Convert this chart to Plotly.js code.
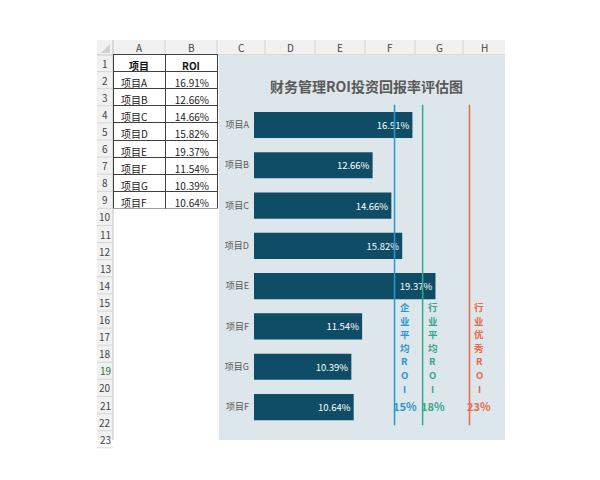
<!DOCTYPE html>
<html><head><meta charset="utf-8">
<script src="https://cdn.plot.ly/plotly-3.0.1.min.js"></script>
<style>html,body{margin:0;padding:0;background:#fff;}#chart{width:600px;height:480px;}</style>
</head><body><div id="chart"></div>
<script>
// ---- data ----
const projects = ['项目A','项目B','项目C','项目D','项目E','项目F','项目G','项目F'];
const roi = [16.91, 12.66, 14.66, 15.82, 19.37, 11.54, 10.39, 10.64];
const benchNames = ['企业平均ROI','行业平均ROI','行业优秀ROI'];
const benchValues = [15, 18, 23];
const benchColors = ['#2b97d0','#38a78b','#e8694c'];
const colLetters = ['A','B','C','D','E','F','G','H'];
const tableHeader = ['项目','ROI'];
const chartTitle = '财务管理ROI投资回报率评估图';

// ---- layout helpers (pixel -> paper) ----
const W = 600, H = 480;
const px = p => p / W;
const py = p => 1 - p / H;
const font = '"Noto Sans CJK SC", "Noto Sans", sans-serif';

const colEdges = [97, 113, 165, 217, 265, 315, 365, 415, 463, 505];
const rowTop = 54.5, rowH = 17.1, nRows = 23;

const shapes = [];
const annotations = [];

// sheet header row & row-number column
shapes.push({type:'rect', xref:'paper', yref:'paper', x0:px(97), x1:px(505), y0:py(55), y1:py(40), fillcolor:'#f1f1f1', line:{width:0}, layer:'below'});
shapes.push({type:'rect', xref:'paper', yref:'paper', x0:px(97), x1:px(113), y0:py(440), y1:py(55), fillcolor:'#f1f1f1', line:{width:0}, layer:'below'});
shapes.push({type:'line', xref:'paper', yref:'paper', x0:px(97), x1:px(505), y0:py(55), y1:py(55), line:{color:'#c6c6c6', width:1}, layer:'below'});
shapes.push({type:'line', xref:'paper', yref:'paper', x0:px(113), x1:px(113), y0:py(440), y1:py(40), line:{color:'#c6c6c6', width:1}, layer:'below'});
// corner triangle
shapes.push({type:'path', xref:'paper', yref:'paper', path:`M ${px(110)} ${py(44)} L ${px(110)} ${py(53)} L ${px(101)} ${py(53)} Z`, fillcolor:'#cfcfcf', line:{width:0}, layer:'below'});
for (let i = 1; i < colEdges.length - 1; i++) {
  shapes.push({type:'line', xref:'paper', yref:'paper', x0:px(colEdges[i]), x1:px(colEdges[i]), y0:py(55), y1:py(40), line:{color:'#d4d4d4', width:1}, layer:'below'});
}
colLetters.forEach((c, i) => {
  annotations.push({xref:'paper', yref:'paper', x:px((colEdges[i+1]+colEdges[i+2])/2), y:py(47.5), text:c, showarrow:false, font:{family:font, size:10, color:'#444'}, xanchor:'center', yanchor:'middle'});
});
for (let r = 1; r <= nRows; r++) {
  const yb = rowTop + rowH * r;
  shapes.push({type:'line', xref:'paper', yref:'paper', x0:px(97), x1:px(113), y0:py(yb), y1:py(yb), line:{color:'#d6d6d6', width:1}, layer:'below'});
  annotations.push({xref:'paper', yref:'paper', x:px(105), y:py(yb - rowH/2), text:String(r), showarrow:false, font:{family:font, size:10, color:r===19?'#217346':'#444'}, xanchor:'center', yanchor:'middle'});
}

// chart background
shapes.push({type:'rect', xref:'paper', yref:'paper', x0:px(219), x1:px(505), y0:py(440), y1:py(55), fillcolor:'#dde6ea', line:{width:0}, layer:'below'});

// title
annotations.push({xref:'paper', yref:'paper', x:px(366), y:py(86), text:'<b>'+chartTitle+'</b>', showarrow:false, font:{family:font, size:14, color:'#595959'}, xanchor:'center', yanchor:'middle'});

// traces
const traces = [];
traces.push({
  type:'table',
  domain:{x:[px(113), px(217)], y:[py(rowTop + rowH * (projects.length + 1) + 1), py(rowTop)]},
  columnwidth:[52,52],
  header:{values:tableHeader, align:'center', height:rowH, fill:{color:'#ffffff'}, line:{color:'#404040', width:1}, font:{family:font, size:10, color:'#111', weight:'bold'}},
  cells:{values:[projects, roi.map(v=>v.toFixed(2)+'%')], align:['left','right'], height:rowH, fill:{color:'#ffffff'}, line:{color:'#404040', width:1}, font:{family:font, size:10, color:'#222'}}
});

const yIdx = projects.map((_, i) => i);
traces.push({
  type:'bar', orientation:'h', x:roi, y:yIdx, width:0.65,
  marker:{color:'#0f4d66'},
  text:roi.map(v=>v.toFixed(2)+'%'), textposition:'inside', insidetextanchor:'end',
  textfont:{family:font, size:9.5, color:'#ffffff'}, hoverinfo:'skip', showlegend:false,
  cliponaxis:false
});

const lineTop = -0.5, lineBottom = 7.45;
const charStart = 307, charStep = 13.6;
benchValues.forEach((v, i) => {
  traces.push({type:'scatter', mode:'lines', x:[v, v], y:[lineTop, lineBottom], line:{color:benchColors[i], width:1.5}, hoverinfo:'skip', showlegend:false});
  benchNames[i].split('').forEach((ch, k) => {
    annotations.push({xref:'x', yref:'paper', x:v, xshift:10, y:py(charStart + charStep * k), text:'<b>'+ch+'</b>', showarrow:false, font:{family:font, size:9.5, color:benchColors[i]}, xanchor:'center', yanchor:'middle', borderpad:0});
  });
  annotations.push({xref:'x', yref:'paper', x:v, xshift:10, y:py(406), text:'<b>'+v+'%</b>', showarrow:false, font:{family:font, size:11, color:benchColors[i]}, xanchor:'center', yanchor:'middle'});
});

const layout = {
  width:W, height:H, margin:{l:0, r:0, t:0, b:0},
  paper_bgcolor:'#ffffff', plot_bgcolor:'rgba(0,0,0,0)',
  showlegend:false,
  xaxis:{domain:[px(254), px(505)], range:[0, 26.79], visible:false, fixedrange:true},
  yaxis:{domain:[py(440), py(100)], range:[7.818, -0.62], tickvals:yIdx, ticktext:projects, showgrid:false, zeroline:false, showline:false, ticks:'', ticklabelstandoff:4, tickfont:{family:font, size:9, color:'#595959'}, fixedrange:true},
  shapes:shapes, annotations:annotations, bargap:0.35
};

Plotly.newPlot('chart', traces, layout, {displayModeBar:false, staticPlot:true});
</script></body></html>
